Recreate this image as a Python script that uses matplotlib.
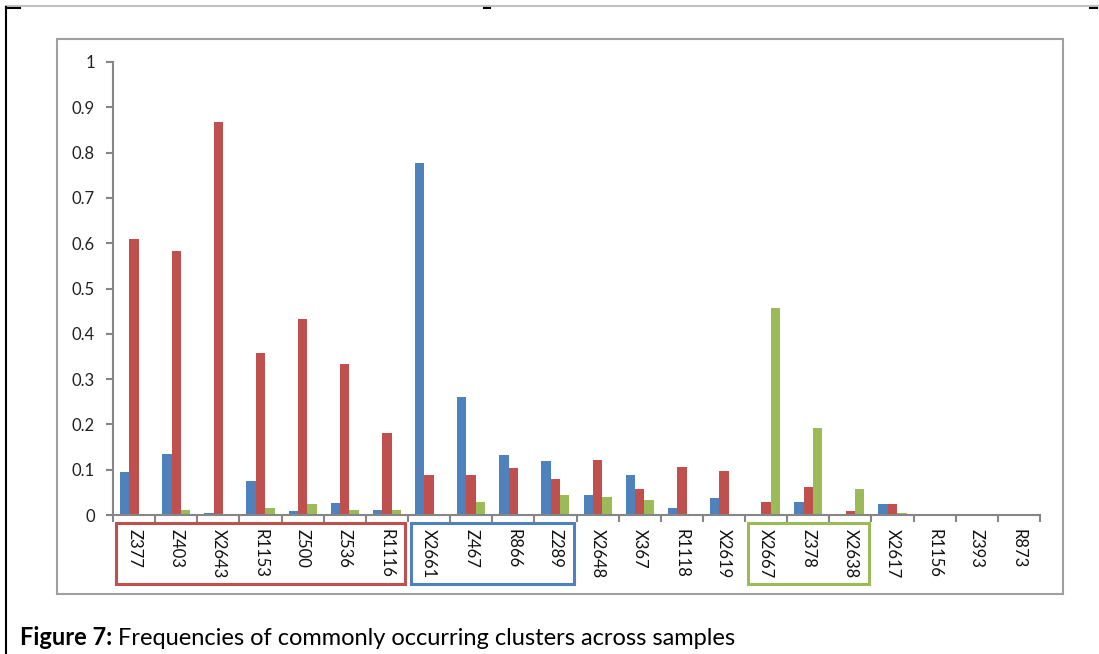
import matplotlib.pyplot as plt
import matplotlib.transforms as mtransforms
from matplotlib.patches import Rectangle
from matplotlib.lines import Line2D
import numpy as np

plt.rcParams['font.family'] = ['Lato', 'DejaVu Sans']

# cluster names along the x axis
clusters = ["Z377", "Z403", "X2643", "R1153", "Z500", "Z536", "R1116",
            "X2661", "Z467", "R866", "Z289", "X2648", "X367", "R1118",
            "X2619", "X2667", "Z378", "X2638", "X2617", "R1156", "Z393", "R873"]

# frequencies for the three samples (blue, red, green)
blue = [0.095, 0.135, 0.005, 0.075, 0.008, 0.027, 0.010,
        0.778, 0.260, 0.133, 0.120, 0.045, 0.088, 0.015,
        0.037, 0.000, 0.028, 0.000, 0.024, 0.000, 0.003, 0.000]
red = [0.610, 0.582, 0.868, 0.358, 0.433, 0.333, 0.182,
       0.088, 0.088, 0.104, 0.079, 0.122, 0.057, 0.105,
       0.097, 0.028, 0.062, 0.009, 0.024, 0.000, 0.000, 0.000]
green = [0.000, 0.012, 0.000, 0.015, 0.025, 0.010, 0.012,
         0.000, 0.028, 0.000, 0.045, 0.040, 0.033, 0.000,
         0.000, 0.458, 0.193, 0.058, 0.004, 0.000, 0.000, 0.000]

# highlighted groups of labels: (first index, last index, colour)
groups = [(0, 6, "#C0504D"), (7, 10, "#4F81BD"), (15, 17, "#9BBB59")]

W, H = 1099, 654
fig = plt.figure(figsize=(W / 100, H / 100), dpi=100)

# outer page frame
fig.add_artist(Line2D([6 / W, 1], [1 - 6 / H, 1 - 6 / H], color="#c0c0c0", lw=1.5))
fig.add_artist(Line2D([6 / W, 6 / W], [0, 1 - 7 / H], color="black", lw=1.5))
fig.add_artist(Line2D([6 / W, 20 / W], [1 - 8 / H, 1 - 8 / H], color="black", lw=1.5))
fig.add_artist(Line2D([484 / W, 490 / W], [1 - 8 / H, 1 - 8 / H], color="black", lw=1.5))
fig.add_artist(Line2D([1090 / W, 1097 / W], [1 - 8 / H, 1 - 8 / H], color="black", lw=1.5))

# chart area box
fig.add_artist(Rectangle((57 / W, 1 - 594 / H), (1063 - 57) / W, (594 - 39) / H,
                         fill=False, edgecolor="#a0a0a0", lw=1.5))

ax = fig.add_axes([113 / W, 1 - 515 / H, (1040 - 113) / W, (515 - 62) / H])

x = np.arange(len(clusters))
w = 1 / 4.5
ax.bar(x - w, blue, w, color="#4F81BD")
ax.bar(x, red, w, color="#C0504D")
ax.bar(x + w, green, w, color="#9BBB59")

ax.set_xlim(-0.5, len(clusters) - 0.5)
ax.set_ylim(0, 1)
ax.set_yticks(np.arange(0, 1.01, 0.1))
ax.set_yticklabels(["0"] + ["%.1f" % v for v in np.arange(0.1, 0.95, 0.1)] + ["1"])

ax.set_xticks(x)
ax.set_xticklabels(clusters, rotation=270, va="top", ha="center")
ax.set_xticks(np.arange(-0.5, len(clusters)), minor=True)

for s in ["top", "right"]:
    ax.spines[s].set_visible(False)
for s in ["left", "bottom"]:
    ax.spines[s].set_color("#868686")
    ax.spines[s].set_linewidth(1.5)

ax.tick_params(axis="y", direction="out", length=5, width=1.5, color="#868686",
               labelsize=12, pad=8, labelcolor="#222222")
ax.tick_params(axis="x", which="major", length=0, pad=10, labelsize=12,
               labelcolor="#111111")
ax.tick_params(axis="x", which="minor", direction="out", length=5, width=1.5,
               color="#868686")

# coloured boxes around label groups
trans = mtransforms.blended_transform_factory(ax.transData, fig.transFigure)
for first, last, col in groups:
    x0 = first - 0.42
    x1 = last + 0.44
    ax.add_patch(Rectangle((x0, 1 - 584 / H), x1 - x0, (584 - 523) / H,
                           fill=False, edgecolor=col, lw=2.2, transform=trans,
                           clip_on=False))

# caption: bold lead-in followed by plain text
cap = fig.text(20 / W, 1 - 645 / H, "Figure 7:", fontsize=17, fontweight="bold",
               va="baseline", ha="left")
bb = cap.get_window_extent(renderer=fig.canvas.get_renderer())
fig.text(bb.x1 / W + 6 / W, 1 - 645 / H,
         "Frequencies of commonly occurring clusters across samples",
         fontsize=17, va="baseline", ha="left")

fig.savefig("out.png", dpi=100)
